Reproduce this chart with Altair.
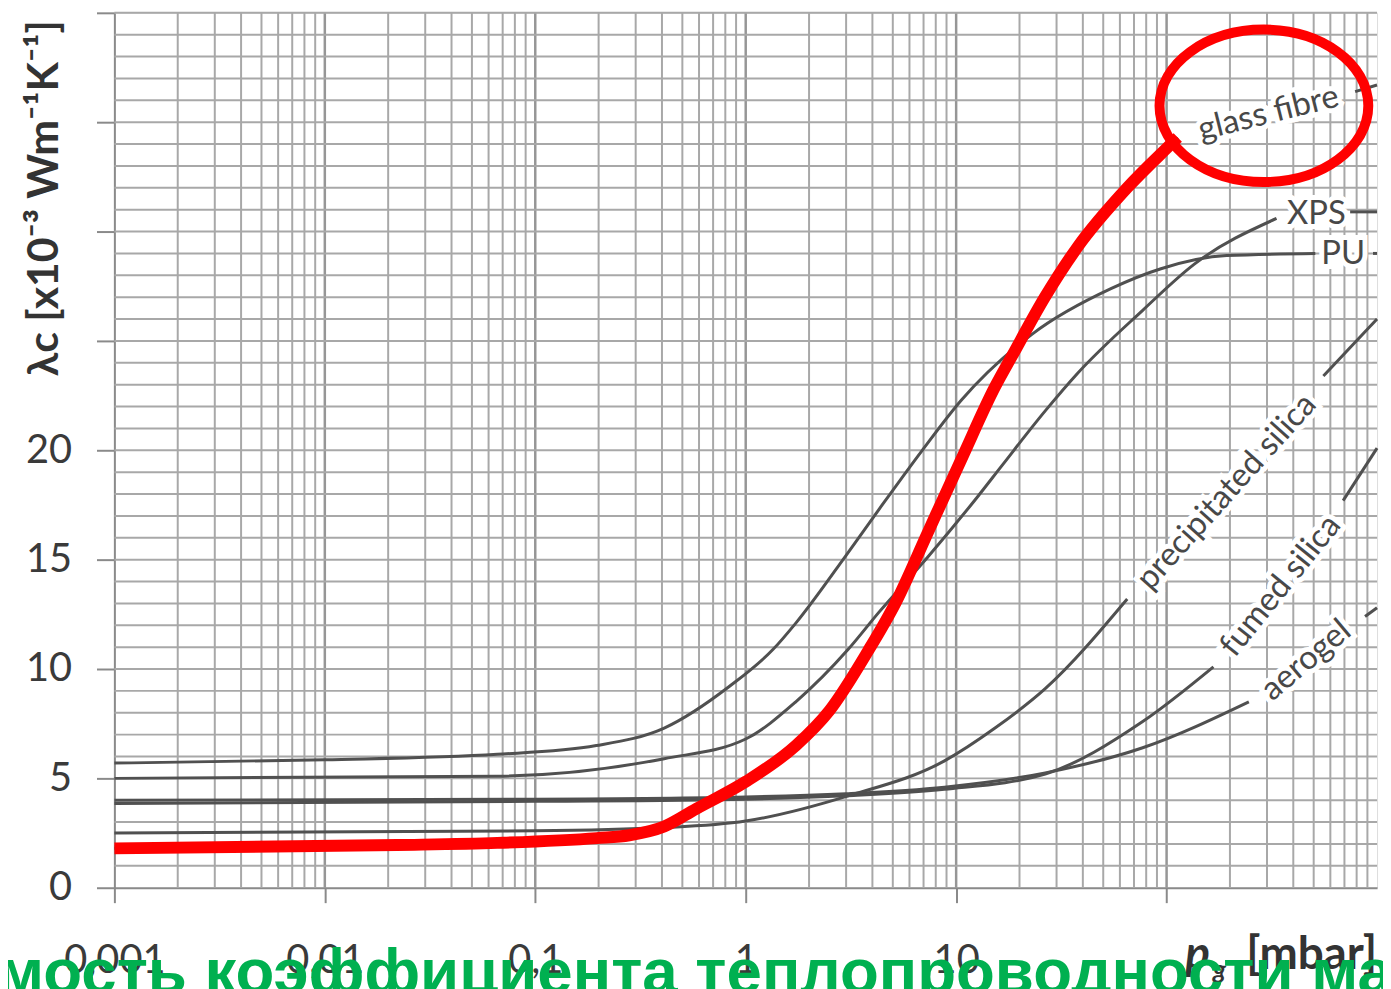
import altair as alt
import pandas as pd

# ---------------- data ----------------
# glass fibre (highlighted in red)
p_glass = [0.001, 0.022, 0.066, 0.196, 0.28, 0.41, 0.58, 1.0, 1.73, 2.5, 3.8, 5.2, 7.3, 10.6, 15.3, 18.4, 26.4, 37.8, 65, 105, 113]
k_glass = [1.8, 1.95, 2.05, 2.27, 2.4, 2.8, 3.6, 4.85, 6.5, 8.1, 10.8, 13.1, 16.2, 19.6, 22.9, 24.3, 27.0, 29.3, 32.0, 34.0, 34.3]
p_glass_tail = [787, 1000]
k_glass_tail = [36.4, 36.7]

p_pu = [0.001, 0.01, 0.066, 0.195, 0.41, 0.835, 1.35, 1.73, 3.0, 4.3, 6.9, 10.6, 22.9, 54.7, 94, 193, 509]
k_pu = [5.7, 5.85, 6.1, 6.5, 7.3, 9.2, 10.9, 12.1, 15.2, 17.3, 20.0, 22.3, 25.3, 27.4, 28.3, 28.9, 29.0]
p_pu_tail = [957, 1000]
k_pu_tail = [29.0, 29.0]

p_xps = [0.001, 0.066, 0.41, 1.0, 1.73, 3.07, 4.3, 7.3, 12.7, 16.5, 26.5, 37.6, 77, 135, 333]
k_xps = [5.0, 5.1, 5.9, 6.8, 8.5, 10.9, 12.6, 15.1, 17.9, 19.3, 21.8, 23.5, 26.4, 28.5, 30.6]
p_xps_tail = [745, 1000]
k_xps_tail = [30.9, 30.9]

p_prec = [0.001, 0.1, 0.41, 1.0, 3.07, 8.8, 15.3, 26.5, 65]
k_prec = [2.5, 2.6, 2.75, 3.05, 4.2, 5.8, 7.3, 9.1, 13.2]
p_prec_tail = [556, 1000]
k_prec_tail = [23.4, 26.0]

p_fumed = [0.001, 0.1, 1.0, 3.0, 8.8, 26.5, 77, 167]
k_fumed = [3.85, 3.95, 4.05, 4.2, 4.5, 5.2, 7.6, 10.1]
p_fumed_tail = [690, 1000]
k_fumed_tail = [17.7, 20.1]

p_aero = [0.001, 0.1, 1.0, 3.0, 8.8, 26.5, 77, 246]
k_aero = [4.0, 4.05, 4.15, 4.3, 4.6, 5.25, 6.4, 8.5]
p_aero_tail = [877, 1000]
k_aero_tail = [12.4, 12.8]

# curve labels
label_text = ["glass fibre", "XPS", "PU", "precipitated silica", "fumed silica", "aerogel"]
label_p = [305, 515, 690, 193, 348, 461]
label_k = [35.4, 30.8, 28.95, 18.1, 13.8, 10.4]
label_angle = [346, 0, 0, 312, 309, 320]

# axis ticks
x_ticks = [0.001, 0.01, 0.1, 1, 10, 100]
y_ticks = [0, 5, 10, 15, 20, 25, 30, 35, 40]
x_minor = [m * d for d in [0.001, 0.01, 0.1, 1, 10, 100] for m in range(2, 10)]
x_decade_grid = [0.01, 0.1, 1, 10, 100]
y_grid = list(range(1, 41))

# highlight ellipse centre
ellipse_p = [290]
ellipse_k = [35.75]

bottom_caption = "мость коэффициента теплопроводности ма"

# ---------------- build tables ----------------
rows = []
def add(name, seg, ps, ks):
    for p, k in zip(ps, ks):
        rows.append({"series": name, "seg": name + seg, "p": p, "k": k})

add("glass fibre", "a", p_glass, k_glass)
add("glass fibre", "b", p_glass_tail, k_glass_tail)
add("PU", "a", p_pu, k_pu)
add("PU", "b", p_pu_tail, k_pu_tail)
add("XPS", "a", p_xps, k_xps)
add("XPS", "b", p_xps_tail, k_xps_tail)
add("precipitated silica", "a", p_prec, k_prec)
add("precipitated silica", "b", p_prec_tail, k_prec_tail)
add("fumed silica", "a", p_fumed, k_fumed)
add("fumed silica", "b", p_fumed_tail, k_fumed_tail)
add("aerogel", "a", p_aero, k_aero)
add("aerogel", "b", p_aero_tail, k_aero_tail)
curves = pd.DataFrame(rows)
red = pd.DataFrame({"p": p_glass, "k": k_glass})
labels = pd.DataFrame({"text": label_text, "p": label_p, "k": label_k, "angle": label_angle})

W, H = 1270, 880
GRID = "#a8a8a8"
AX = "#8a8a8a"
FONT = "Lato"

xscale = alt.Scale(type="log", domain=[0.001, 1000], nice=False)
yscale = alt.Scale(domain=[0, 40], nice=False, zero=False)

xaxis = alt.Axis(values=x_ticks, grid=False, title=None,
                 labelExpr="datum.value >= 100 ? '' : replace(format(datum.value, '~g'), '.', ',')",
                 tickSize=15, tickWidth=2, tickColor=AX, domainColor=AX, domainWidth=2,
                 labelFont=FONT, labelFontSize=40, labelColor="#3a3a3a", labelPadding=38,
                 labelFlush=False, labelOverlap=False)
yaxis = alt.Axis(values=y_ticks, grid=False,
                 title="λc [x10⁻³ Wm⁻¹K⁻¹]", titleFont=FONT, titleFontSize=43,
                 titleFontWeight="bold", titleColor="#333333", titleX=-70, titleY=186,
                 titleAlign="center", titleBaseline="middle", titleAngle=270,
                 labelExpr="datum.value <= 20 ? datum.value : ''",
                 tickSize=18, tickWidth=2, tickColor=AX, domainColor=AX, domainWidth=2,
                 labelFont=FONT, labelFontSize=40, labelColor="#3a3a3a", labelPadding=25,
                 labelOverlap=False)

vgrid = alt.Chart(pd.DataFrame({"p": x_minor})).mark_rule(color=GRID, strokeWidth=2).encode(
    x=alt.X("p:Q", scale=xscale, axis=xaxis))
vgrid_major = alt.Chart(pd.DataFrame({"p": x_decade_grid})).mark_rule(color="#969696", strokeWidth=2.5).encode(
    x=alt.X("p:Q", scale=xscale))
hgrid = alt.Chart(pd.DataFrame({"k": y_grid})).mark_rule(color=GRID, strokeWidth=2).encode(
    y=alt.Y("k:Q", scale=yscale, axis=yaxis))

halo = alt.Chart(labels).mark_text(font=FONT, fontSize=33, color="white", stroke="white",
                                   strokeWidth=10, align="center", baseline="middle").encode(
    x=alt.X("p:Q", scale=xscale), y=alt.Y("k:Q", scale=yscale), text="text:N",
    angle=alt.Angle("angle:Q", scale=None))

lines = alt.Chart(curves).mark_line(color="#505050", strokeWidth=3, interpolate="monotone").encode(
    x=alt.X("p:Q", scale=xscale), y=alt.Y("k:Q", scale=yscale), detail="seg:N")

redline = alt.Chart(red).mark_line(color="#ff0000", strokeWidth=12, interpolate="monotone",
                                   strokeCap="butt").encode(
    x=alt.X("p:Q", scale=xscale), y=alt.Y("k:Q", scale=yscale))

label_marks = alt.Chart(labels).mark_text(font=FONT, fontSize=33, color="#484848",
                                          align="center", baseline="middle").encode(
    x=alt.X("p:Q", scale=xscale), y=alt.Y("k:Q", scale=yscale), text="text:N",
    angle=alt.Angle("angle:Q", scale=None))

ellipse_shape = "M-1,0 A1,0.73 0 1,1 1,0 A1,0.73 0 1,1 -1,0 Z"
ellipse = alt.Chart(pd.DataFrame({"p": ellipse_p, "k": ellipse_k})).mark_point(
    shape=ellipse_shape, size=44100, filled=False, stroke="#ff0000", strokeWidth=10, opacity=1).encode(
    x=alt.X("p:Q", scale=xscale), y=alt.Y("k:Q", scale=yscale))

pg_p = alt.Chart(pd.DataFrame({"t": ["p"]})).mark_text(
    font=FONT, fontSize=46, fontWeight="bold", fontStyle="italic", color="#333333",
    align="left", baseline="alphabetic").encode(x=alt.value(1077), y=alt.value(962), text="t:N")
pg_g = alt.Chart(pd.DataFrame({"t": ["g"]})).mark_text(
    font=FONT, fontSize=26, fontWeight="bold", fontStyle="italic", color="#333333",
    align="left", baseline="alphabetic").encode(x=alt.value(1105), y=alt.value(972), text="t:N")
pg_unit = alt.Chart(pd.DataFrame({"t": ["[mbar]"]})).mark_text(
    font=FONT, fontSize=46, fontWeight="bold", color="#333333",
    align="right", baseline="alphabetic").encode(x=alt.value(1270), y=alt.value(962), text="t:N")

caption = alt.Chart(pd.DataFrame({"t": [bottom_caption]})).mark_text(
    font="Liberation Sans", fontSize=64, fontWeight="bold", color="#00b050",
    align="left", baseline="alphabetic").encode(x=alt.value(-118), y=alt.value(986), text="t:N")

chart = alt.layer(vgrid, vgrid_major, hgrid, halo, lines, redline, label_marks, ellipse,
                  pg_p, pg_g, pg_unit, caption).properties(
    width=W, height=H,
    autosize=alt.AutoSizeParams(type="none"),
    padding={"left": 107, "top": 2, "right": 6, "bottom": 99},
).configure_view(stroke=None).configure(background="white")

chart.save("out.html", embed_options={"renderer": "svg", "actions": False})
